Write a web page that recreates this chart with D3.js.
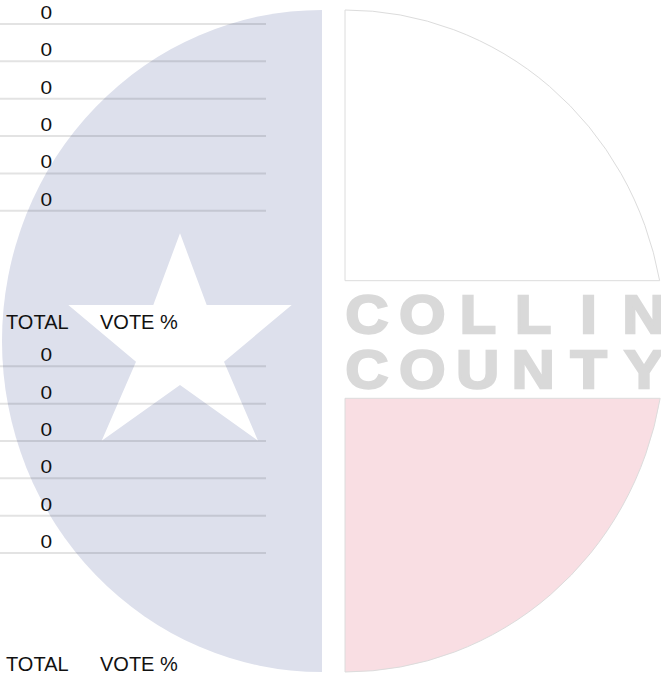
<!DOCTYPE html>
<html>
<head>
<meta charset="utf-8">
<script src="https://cdn.jsdelivr.net/npm/d3@7"></script>
<style>
  body { margin: 0; background: #fff; }
  text { font-family: 'Liberation Sans', Arial, sans-serif; }
</style>
</head>
<body>
<div class="canvas"></div>
<script>
// values
const blocks = ['upper', 'lower']
const upperTotals = [0, 0, 0, 0, 0, 0]
const lowerTotals = [0, 0, 0, 0, 0, 0]
const headerLabels = ['TOTAL', 'VOTE %']
const logoWords = ['COLLIN', 'COUNTY']

const totals = { upper: upperTotals, lower: lowerTotals }

const width = 661
const height = 676

const svg = d3.select('.canvas')
              .append('svg')
              .attr('width', width)
              .attr('height', height)

// scales
const rowY = d3.scaleLinear().domain([0, 1]).range([24, 61.35])
const blockY = d3.scaleOrdinal().domain(blocks).range([0, 342.3])
const colX = d3.scaleOrdinal().domain(headerLabels).range([6, 100])
const letterX = d3.scalePoint().domain(d3.range(6)).range([367, 644])
const wordY = d3.scaleOrdinal().domain(logoWords).range([332.5, 387.5])

// background logo (ellipse halves)
const rx = 320, ry = 331, cy = 341
const leftCx = 322, rightCx = 345
const topCut = 280.7, bottomCut = 398.3
const edgeX = y => rightCx + rx * Math.sqrt(1 - Math.pow((y - cy) / ry, 2))

const logo = svg.append('g')

logo.append('path')
    .attr('d', `M${leftCx},${cy - ry} A${rx},${ry} 0 0 0 ${leftCx},${cy + ry} Z`)
    .attr('fill', '#dde0ec')

logo.append('path')
    .attr('d', `M${rightCx},${cy - ry} A${rx},${ry} 0 0 1 ${edgeX(topCut)},${topCut} L${rightCx},${topCut} Z`)
    .attr('fill', '#fff')
    .attr('stroke', '#dcdcdc')
    .attr('stroke-width', 1)

logo.append('path')
    .attr('d', `M${rightCx},${bottomCut} L${edgeX(bottomCut)},${bottomCut} A${rx},${ry} 0 0 1 ${rightCx},${cy + ry} Z`)
    .attr('fill', '#f9dee3')
    .attr('stroke', '#dcdcdc')
    .attr('stroke-width', 1)

// star
const starPts = [[180, 233.3], [206.7, 305], [291.7, 305], [224, 361.7], [258, 440.7],
                 [180, 385], [101.7, 440.7], [136, 361.7], [68.3, 305], [153.3, 305]]
logo.append('path')
    .attr('d', d3.line()(starPts) + 'Z')
    .attr('fill', '#fff')

// COLLIN / COUNTY
logoWords.forEach(word => {
  logo.selectAll(null)
      .data(word.split(''))
      .enter()
      .append('text')
      .attr('transform', (d, i) => `translate(${letterX(i)},${wordY(word)}) scale(1.12,1)`)
      .attr('text-anchor', 'middle')
      .attr('font-size', 53)
      .attr('font-weight', 'bold')
      .attr('fill', '#d9d9d9')
      .attr('stroke', '#d9d9d9')
      .attr('stroke-width', 2.4)
      .attr('stroke-linejoin', 'miter')
      .text(d => d)
})

// table
const table = svg.append('g')

blocks.forEach(b => {
  const g = table.append('g').attr('transform', `translate(0,${blockY(b)})`)

  g.selectAll('line')
   .data(totals[b])
   .enter()
   .append('line')
   .attr('x1', 0)
   .attr('x2', 266)
   .attr('y1', (d, i) => rowY(i))
   .attr('y2', (d, i) => rowY(i))
   .attr('stroke', 'rgba(0,0,0,0.11)')
   .attr('stroke-width', 2)

  g.selectAll('text.val')
   .data(totals[b])
   .enter()
   .append('text')
   .attr('class', 'val')
   .attr('transform', (d, i) => `translate(46.3,${rowY(i) - 5}) scale(1.1,1)`)
   .attr('text-anchor', 'middle')
   .attr('font-size', 19)
   .attr('fill', '#111')
   .text(d => d)

  g.selectAll('text.head')
   .data(headerLabels)
   .enter()
   .append('text')
   .attr('class', 'head')
   .attr('x', d => colX(d))
   .attr('y', 328.5)
   .attr('font-size', 20)
   .attr('fill', '#111')
   .text(d => d)
})
</script>
</body>
</html>
